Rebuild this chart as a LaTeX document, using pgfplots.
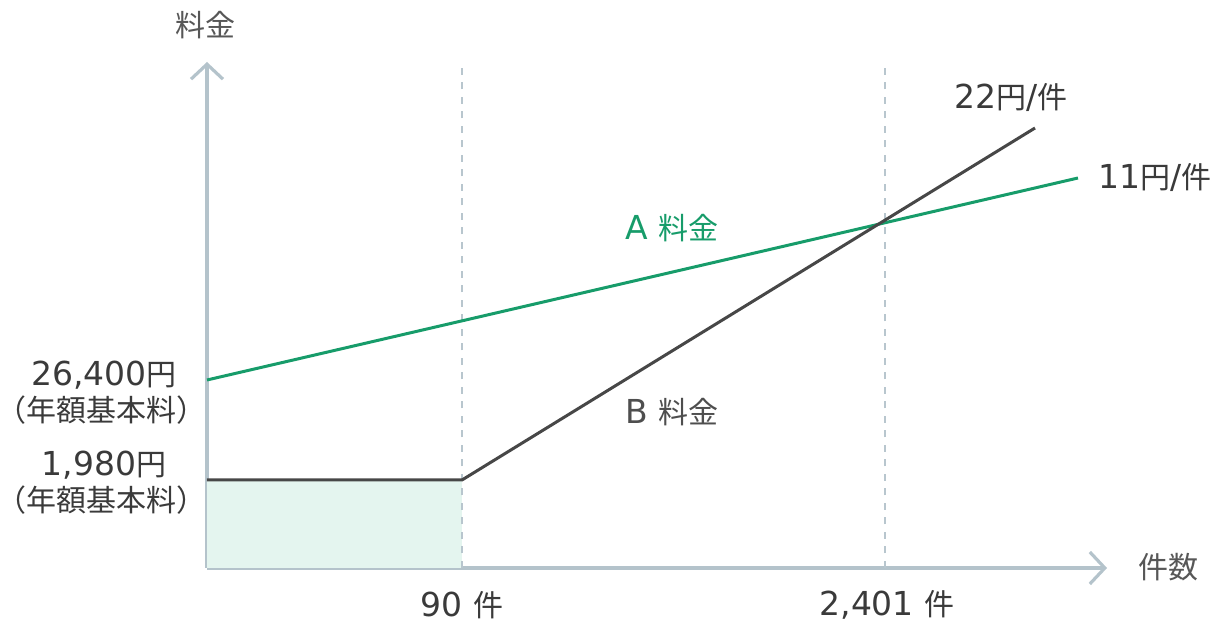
\documentclass[border=0pt]{standalone}
\usepackage{pgfplots}
\pgfplotsset{compat=1.18}
\usepackage{fontspec}
\setmainfont{DejaVu Sans}
\newfontfamily\cjkfont{Noto Sans CJK JP}
\newcommand{\jp}[1]{{\cjkfont\fontsize{15pt}{17pt}\selectfont #1}}
\usetikzlibrary{arrows.meta}
\definecolor{axisgray}{HTML}{B4C3CB}
\definecolor{dashgray}{HTML}{B8C6CE}
\definecolor{agreen}{HTML}{179C6A}
\definecolor{bgray}{HTML}{474747}
\definecolor{fillmint}{HTML}{E4F5EF}
\definecolor{txt}{HTML}{3A3A3A}
\begin{document}
\begin{tikzpicture}[x=0.5pt,y=0.5pt]
% whole page = 1225 x 625 px, 1px = 0.5pt
\useasboundingbox (0,0) rectangle (1225,625);
\begin{axis}[
    at={(103.5pt,28.5pt)}, anchor=origin,
    scale only axis,
    width=450pt, height=253pt,
    xmin=0, xmax=900, ymin=0, ymax=506,
    axis lines=left,
    axis line style={axisgray, line width=1.6pt, -{Straight Barb[length=7.5pt,width=16pt,line width=1.6pt]}},
    ticks=none,
    clip=false,
    font=\fontsize{16.5pt}{18pt}\selectfont,
]
% schematic positions (not to scale): x = 90 at 255, 2401 at 678
\addplot[draw=none, fill=fillmint, forget plot] coordinates {(0,0) (0,88) (255,88) (255,0)} -- cycle;
\addplot[dashgray, line width=1.3pt, dash pattern=on 3.5pt off 3.75pt] coordinates {(255,0) (255,506)};
\addplot[dashgray, line width=1.3pt, dash pattern=on 3.5pt off 3.75pt] coordinates {(678,0) (678,506)};
\addplot[agreen, line width=1.5pt] coordinates {(0,188) (871,390)};
\addplot[bgray, line width=1.5pt] coordinates {(0,88) (255,88) (828,440)};

\node[txt!85] at (axis cs:-2,543) {\jp{料金}};
\node[txt!85] at (axis cs:961,1) {\jp{件数}};
\node[txt] at (axis cs:255,-37) {90 \jp{件}};
\node[txt] at (axis cs:680,-37) {2,401 \jp{件}};
\node[txt] at (axis cs:-103,193) {26,400\jp{円}};
\node[txt] at (axis cs:-105,158) {\jp{（年額基本料）}};
\node[txt] at (axis cs:-103,103) {1,980\jp{円}};
\node[txt] at (axis cs:-105,68) {\jp{（年額基本料）}};
\node[txt] at (axis cs:804,470) {22\jp{円}/\jp{件}};
\node[txt, anchor=west] at (axis cs:884,390) {11\jp{円}/\jp{件}};
\node[agreen] at (axis cs:465,340) {A \jp{料金}};
\node[txt!90] at (axis cs:465,156) {B \jp{料金}};
\end{axis}
\end{tikzpicture}
\end{document}
